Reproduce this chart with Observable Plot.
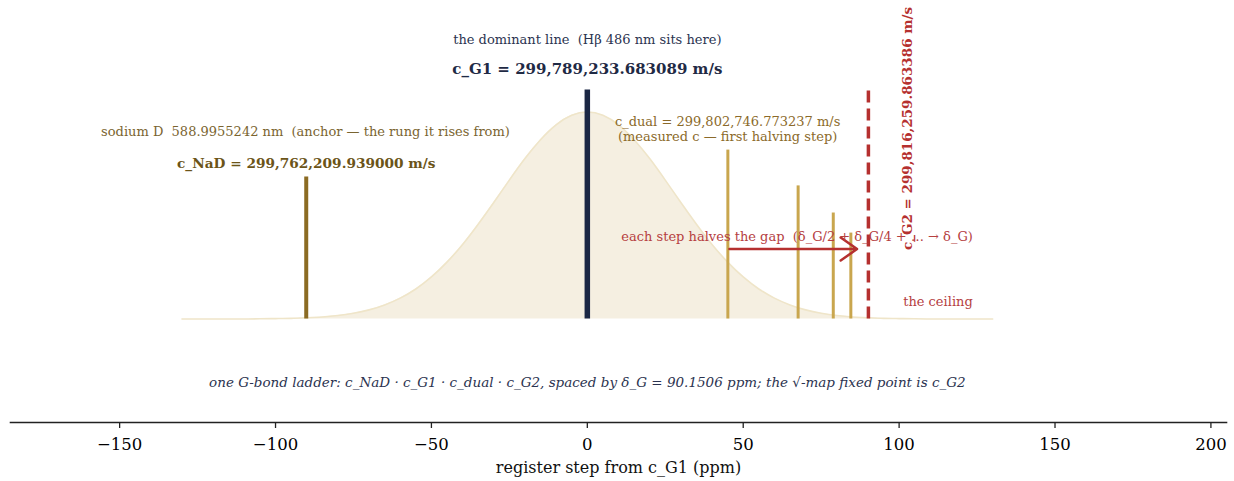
<!DOCTYPE html>
<html>
<head>
<meta charset="utf-8">
<script src="https://cdn.jsdelivr.net/npm/d3@7"></script>
<script src="https://cdn.jsdelivr.net/npm/@observablehq/plot@0.6"></script>
<style>
  html, body { margin: 0; padding: 0; background: #fff; }
  #chart svg { display: block; overflow: visible; }
</style>
</head>
<body>
<div id="chart"></div>
<script>
// ---- data ----
// background profile (relative intensity, peak = 1) vs register step (ppm)
const profilePpm = [-130,-125,-120,-115,-110,-105,-100,-95,-90,-85,-80,-75,-70,-65,-60,-55,-50,-45,-40,-35,-30,-25,-20,-15,-10,-5,0,5,10,15,20,25,30,35,40,45,50,55,60,65,70,75,80,85,90,95,100,105,110,115,120,125,130];
const profileVal = [0,0,0,0,0,0.001,0.002,0.003,0.006,0.010,0.017,0.028,0.044,0.068,0.101,0.145,0.203,0.275,0.360,0.458,0.563,0.671,0.775,0.866,0.938,0.984,1.000,0.984,0.938,0.866,0.775,0.671,0.563,0.458,0.360,0.275,0.203,0.145,0.101,0.068,0.044,0.028,0.017,0.010,0.006,0.003,0.002,0.001,0,0,0,0,0];

// ladder rungs
const rungNames  = ["c_NaD", "c_G1", "c_dual", "step 3/4", "step 7/8", "step 15/16", "c_G2"];
const rungKinds  = ["anchor", "dominant", "halving", "halving", "halving", "halving", "ceiling"];
const rungPpm    = [-90.1506, 0, 45.0753, 67.613, 78.882, 84.516, 90.1506];
const rungHeight = [0.686, 1.106, 0.816, 0.643, 0.512, 0.415, 1.106];

// x axis
const xTicks = [-150, -100, -50, 0, 50, 100, 150, 200];
const xTickLabels = ["\u2212150", "\u2212100", "\u221250", "0", "50", "100", "150", "200"];
const xLabel = "register step from c_G1 (ppm)";

// texts
const domTitle   = "the dominant line  (H\u03b2 486 nm sits here)";
const domValue   = "c_G1 = 299,789,233.683089 m/s";
const naTitle    = "sodium D  588.9955242 nm  (anchor \u2014 the rung it rises from)";
const naValue    = "c_NaD = 299,762,209.939000 m/s";
const dualText   = "c_dual = 299,802,746.773237 m/s\n(measured c \u2014 first halving step)";
const stepText   = "each step halves the gap  (\u03b4_G/2 + \u03b4_G/4 + \u2026 \u2192 \u03b4_G)";
const ceilText   = "the ceiling";
const g2Value    = "c_G2 = 299,816,259.863386 m/s";
const caption    = "one G-bond ladder: c_NaD \u00b7 c_G1 \u00b7 c_dual \u00b7 c_G2, spaced by \u03b4_G = 90.1506 ppm; the \u221a-map fixed point is c_G2";

// ---- build tables ----
const profile = profilePpm.map((x, i) => ({x, v: profileVal[i]}));
const rungs = rungNames.map((name, i) => ({name, kind: rungKinds[i], x: rungPpm[i], h: rungHeight[i]}));

const navy = "#1b2744";
const brown = "#8b6b23";
const gold = "#c9a64e";
const red = "#b5302f";
const serif = "DejaVu Serif";

const chart = Plot.plot({
  width: 1234,
  height: 481,
  marginLeft: 10,
  marginRight: 8,
  marginTop: 8,
  marginBottom: 59,
  style: {fontFamily: serif, background: "#fff"},
  x: {domain: [-185, 205], axis: null},
  y: {domain: [-0.5, 1.5], axis: null},
  marks: [
    Plot.areaY(profile, {x: "x", y: "v", fill: "#f5efe1", curve: "natural"}),
    Plot.lineY(profile, {x: "x", y: "v", stroke: "#efe5c9", strokeWidth: 1.6, curve: "natural"}),
    Plot.ruleX(rungs.filter(d => d.kind === "halving"), {x: "x", y1: 0, y2: "h", stroke: gold, strokeWidth: 3}),
    Plot.ruleX(rungs.filter(d => d.kind === "anchor"), {x: "x", y1: 0, y2: "h", stroke: brown, strokeWidth: 4}),
    Plot.ruleX(rungs.filter(d => d.kind === "dominant"), {x: "x", y1: 0, y2: "h", stroke: navy, strokeWidth: 5.5}),
    Plot.ruleX(rungs.filter(d => d.kind === "ceiling"), {x: "x", y1: 0, y2: "h", stroke: red, strokeWidth: 3.5, strokeDasharray: "12,6"}),
    Plot.arrow([{}], {x1: rungPpm[2] + 0.5, x2: rungPpm[5] + 2, y1: 0.338, y2: 0.338, stroke: red, strokeWidth: 2.5, headLength: 12, headAngle: 70, insetEnd: 0}),
    Plot.text([domTitle], {x: 0, y: 1.348, text: d => d, fill: "#2b3350", fontSize: 13}),
    Plot.text([domValue], {x: 0, y: 1.208, text: d => d, fill: "#1f2a45", fontSize: 15, fontWeight: "bold"}),
    Plot.text([naTitle], {x: -90.4, y: 0.903, text: d => d, fill: "#7a6430", fontSize: 13}),
    Plot.text([naValue], {x: -90.15, y: 0.749, text: d => d, fill: "#6b5418", fontSize: 13.7, fontWeight: "bold"}),
    Plot.text([dualText], {x: 45, y: 0.92, text: d => d, fill: "#8b6a2a", fontSize: 13, lineHeight: 1.15}),
    Plot.text([stepText], {x: 10.9, y: 0.396, text: d => d, fill: "#b5403f", fontSize: 13, textAnchor: "start"}),
    Plot.text([ceilText], {x: 101.3, y: 0.082, text: d => d, fill: "#b5403f", fontSize: 13, textAnchor: "start"}),
    Plot.text([g2Value], {x: 102.9, y: 0.333, text: d => d, fill: red, fontSize: 13.5, fontWeight: "bold", rotate: -90, textAnchor: "start"}),
    Plot.text([caption], {x: 0, y: -0.309, text: d => d, fill: "#2b3350", fontSize: 13.5, fontStyle: "italic"}),
    Plot.frame({anchor: "bottom", stroke: "#222", strokeWidth: 1.6}),
    Plot.axisX(xTicks, {tickSize: 6, tickPadding: 10, fontSize: 16.5, tickFormat: d => xTickLabels[xTicks.indexOf(d)], label: null, stroke: "#222", strokeWidth: 1.3}),
    Plot.text([xLabel], {frameAnchor: "bottom", x: 10, text: d => d, dy: 50, fontSize: 16, fill: "#111"})
  ]
});
document.getElementById("chart").appendChild(chart);
</script>
</body>
</html>
